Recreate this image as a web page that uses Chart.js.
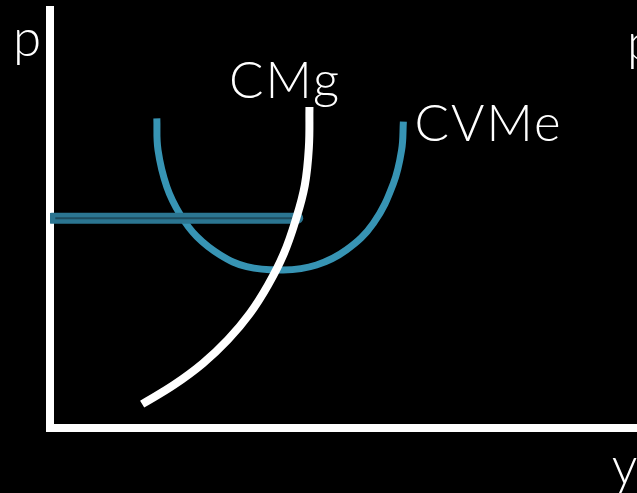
<!DOCTYPE html>
<html>
<head>
<meta charset="utf-8">
<script src="https://cdn.jsdelivr.net/npm/chart.js@4.4.0/dist/chart.umd.min.js"></script>
<style>
  html, body { margin: 0; padding: 0; background: #000; }
  canvas { display: block; }
</style>
</head>
<body>
<canvas id="c" width="637" height="493"></canvas>
<script>
// CMg (marginal cost) curve
const cmgX = [15.7, 21.1, 26.0, 30.3, 34.0, 37.1, 39.8, 41.8, 43.4, 44.1, 44.2];
const cmgY = [5.7, 10.3, 15.4, 21.1, 27.3, 34.1, 41.6, 49.5, 58.0, 67.1, 76.8];

// CVMe (average variable cost) curve
const cvmeX = [18.2, 18.4, 19.9, 22.2, 25.0, 29.0, 33.5, 39.7, 45.4, 50.5, 55.1, 58.5, 59.9, 60.2];
const cvmeY = [74.1, 66.5, 57.7, 51.0, 45.8, 41.4, 38.6, 37.8, 39.0, 42.6, 49.0, 58.5, 66.5, 73.3];

// Price line
const priceX = [0.3, 42.2];
const priceY = [50.2, 50.2];
const priceInnerX = [0.9, 41.7];

// Text labels
const labelTexts = ['p', 'CMg', 'CVMe', 'p', 'y'];
const labelX = [-6.3, 30.5, 62.1, 98.3, 95.7];
const labelY = [89.0, 79.0, 68.7, 88.0, -13.4];

const toPts = (xs, ys) => xs.map((x, i) => ({ x: x, y: ys[i] }));

const labelPlugin = {
  id: 'labels',
  afterDraw(chart) {
    const ctx = chart.ctx;
    const xs = chart.scales.x, ys = chart.scales.y;
    ctx.save();
    ctx.fillStyle = '#ffffff';
    ctx.font = '300 51px Lato, "DejaVu Sans", sans-serif';
    if ('letterSpacing' in ctx) ctx.letterSpacing = '2px';
    ctx.textBaseline = 'alphabetic';
    ctx.textAlign = 'left';
    labelTexts.forEach((t, i) => {
      ctx.fillText(t, xs.getPixelForValue(labelX[i]), ys.getPixelForValue(labelY[i]));
    });
    ctx.restore();
  }
};

new Chart(document.getElementById('c'), {
  type: 'scatter',
  data: {
    datasets: [
      {
        label: 'CMg',
        data: toPts(cmgX, cmgY),
        showLine: true,
        borderColor: '#ffffff',
        borderWidth: 8,
        tension: 0.4,
        pointRadius: 0,
        borderCapStyle: 'butt'
      },
      {
        label: 'p inner',
        data: toPts(priceInnerX, priceY),
        showLine: true,
        borderColor: '#1d4b5e',
        borderWidth: 2,
        pointRadius: 0
      },
      {
        label: 'p',
        data: toPts(priceX, priceY),
        showLine: true,
        borderColor: '#2b7591',
        borderWidth: 11,
        borderCapStyle: 'round',
        pointRadius: 0
      },
      {
        label: 'CVMe',
        data: toPts(cvmeX, cvmeY),
        showLine: true,
        borderColor: '#3794b4',
        borderWidth: 7,
        tension: 0.4,
        pointRadius: 0,
        borderCapStyle: 'butt'
      }
    ]
  },
  options: {
    responsive: false,
    animation: false,
    devicePixelRatio: 1,
    layout: { padding: { left: 50, top: 10, right: 0, bottom: 65 } },
    plugins: { legend: { display: false }, tooltip: { enabled: false } },
    scales: {
      x: {
        type: 'linear', min: 0, max: 100,
        ticks: { display: false },
        grid: { display: false, drawTicks: false, tickLength: 0 },
        border: { display: true, color: '#ffffff', width: 8 }
      },
      y: {
        type: 'linear', min: 0, max: 100,
        ticks: { display: false },
        grid: { display: false, drawTicks: false, tickLength: 0 },
        border: { display: true, color: '#ffffff', width: 8 }
      }
    }
  },
  plugins: [labelPlugin]
});
</script>
</body>
</html>
